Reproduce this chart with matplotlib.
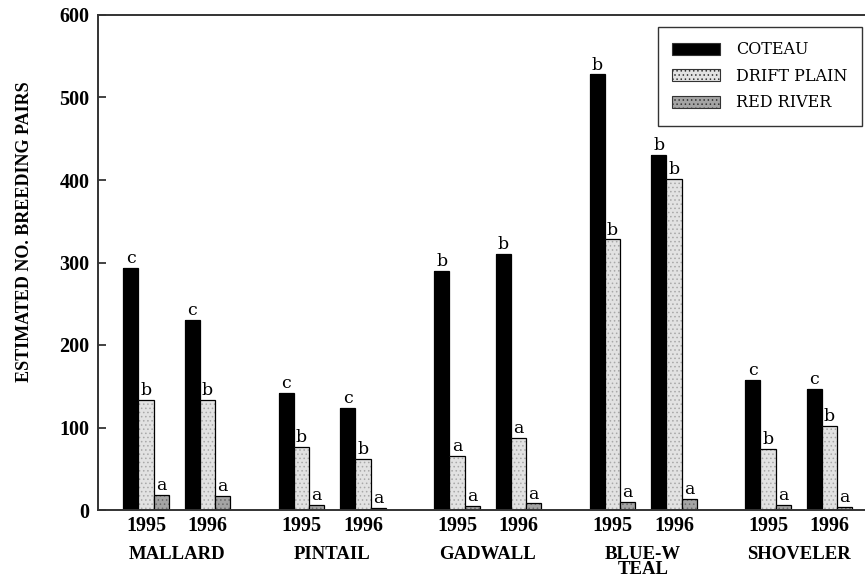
import matplotlib.pyplot as plt
import numpy as np
from matplotlib.transforms import blended_transform_factory

species = ["MALLARD", "PINTAIL", "GADWALL", "BLUE-W\nTEAL", "SHOVELER"]
years = ["1995", "1996"]
regions = ["COTEAU", "DRIFT PLAIN", "RED RIVER"]

# one value per species/year, in the order of the species list
coteau = [293, 230, 142, 124, 290, 310, 528, 430, 158, 147]
drift = [133, 133, 76, 62, 66, 87, 328, 401, 74, 102]
red = [18, 17, 6, 3, 5, 8, 10, 13, 6, 4]

coteau_lab = ["c", "c", "c", "c", "b", "b", "b", "b", "c", "c"]
drift_lab = ["b", "b", "b", "b", "a", "a", "b", "b", "b", "b"]
red_lab = ["a", "a", "a", "a", "a", "a", "a", "a", "a", "a"]

serif = "Liberation Serif"
slab = "DejaVu Serif"

plt.rcParams["hatch.linewidth"] = 0.6

fig = plt.figure(figsize=(8.65, 5.88), dpi=100)
ax = fig.add_axes([98 / 865, 78 / 588, 767 / 865, 495 / 588])

w = 15.3
centers = np.array([48 + 155.5 * i + 61.5 * j for i in range(5) for j in range(2)])

styles = [("black", None, "black"),
          ("#e2e2e2", "....", "#a8a8a8"),
          ("#a4a4a4", "....", "#6a6a6a")]
series = [coteau, drift, red]
labels = [coteau_lab, drift_lab, red_lab]

handles = []
for k in range(3):
    xs = centers + (k - 1) * w
    face, hatch, hcol = styles[k]
    ax.bar(xs, series[k], width=w, color=face, hatch=hatch, edgecolor=hcol, linewidth=0)
    ax.bar(xs, series[k], width=w, fill=False, edgecolor="black", linewidth=0.9)
    handles.append(plt.Rectangle((0, 0), 1, 1, facecolor=face, hatch=hatch,
                                 edgecolor="#333333", linewidth=0.8))
    for x, v, t in zip(xs, series[k], labels[k]):
        ax.text(x, v + 1, t, ha="center", va="bottom", fontsize=12.5, family=slab)

ax.set_xlim(0, 767)
ax.set_ylim(0, 600)
ax.set_yticks(range(0, 601, 100))
for lab in ax.get_yticklabels():
    lab.set_fontfamily(serif)
    lab.set_fontweight("bold")
    lab.set_fontsize(14.5)
ax.tick_params(axis="y", direction="in", length=6, width=1.2, pad=6, colors="#222222")
ax.tick_params(axis="y", labelcolor="black")

ax.set_xticks(centers)
ax.set_xticklabels(years * 5, fontfamily=serif, fontweight="bold", fontsize=14.5)
ax.tick_params(axis="x", length=0, pad=4)

trans = blended_transform_factory(ax.transData, ax.transAxes)
for i, s in enumerate(species):
    xm = (centers[2 * i] + centers[2 * i + 1]) / 2
    ax.text(xm, -0.072, s, transform=trans, ha="center", va="top",
            fontfamily=serif, fontweight="bold", fontsize=13.5, linespacing=0.9)

fig.text(25 / 865, 1 - 232 / 588, "ESTIMATED NO. BREEDING PAIRS", rotation=90,
         ha="center", va="center", fontfamily=serif, fontweight="bold", fontsize=13)

for side in ["left", "top", "bottom"]:
    ax.spines[side].set_linewidth(1.4)
    ax.spines[side].set_color("#333333")
ax.spines["right"].set_visible(False)

leg = ax.legend(handles, regions, loc="upper right", bbox_to_anchor=(0.996, 0.976),
                prop={"family": slab, "size": 11.5}, frameon=True, fancybox=False,
                handlelength=3.0, handleheight=0.75, borderpad=0.9, labelspacing=0.6,
                handletextpad=1.0, borderaxespad=0)
leg.get_frame().set_edgecolor("black")
leg.get_frame().set_linewidth(1.0)

fig.savefig("out.png", dpi=100)
